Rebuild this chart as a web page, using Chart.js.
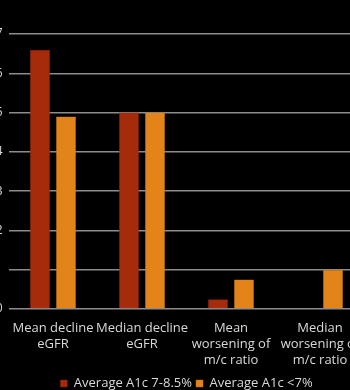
<!DOCTYPE html>
<html>
<head>
<meta charset="utf-8">
<script src="https://cdn.jsdelivr.net/npm/chart.js@4"></script>
<style>
  html,body{margin:0;padding:0;background:#000;overflow:hidden}
  #wrap{position:absolute;left:-20px;top:0;width:413px;height:400px}
</style>
</head>
<body>
<div id="wrap"><canvas id="c"></canvas></div>
<script>
// ── Data ──
const categories = [['Mean decline','eGFR'],['Median decline','eGFR'],['Mean','worsening of','m/c ratio'],['Median','worsening of','m/c ratio']];
const seriesNames = ['Average A1c 7-8.5%','Average A1c <7%'];
const highA1c = [6.6, 5.0, 0.25, 0];
const lowA1c = [4.9, 5.0, 0.75, 1.0];
const yTicks = [0,1,2,3,4,5,6,7];

const FONT = "'Open Sans','DejaVu Sans',sans-serif";
Chart.defaults.font.family = FONT;
Chart.defaults.color = '#d9d9d9';

new Chart(document.getElementById('c'),{
  type:'bar',
  data:{labels:categories, datasets:[
    {label:seriesNames[0], data:highA1c, backgroundColor:'#a62b0b', borderColor:'#7a1f08', borderWidth:0.5, barPercentage:0.77, categoryPercentage:0.585},
    {label:seriesNames[1], data:lowA1c, backgroundColor:'#e3841a', borderColor:'#b5680f', borderWidth:0.5, barPercentage:0.77, categoryPercentage:0.585},
  ]},
  options:{
    responsive:true, maintainAspectRatio:false, animation:false,
    layout:{padding:{top:34,right:0,left:0,bottom:0}},
    plugins:{
      legend:{position:'bottom', labels:{boxWidth:7, boxHeight:7, padding:4, font:{size:13}, color:'#d9d9d9'}},
      tooltip:{enabled:false}
    },
    scales:{
      x:{grid:{display:false}, border:{display:false},
         afterFit:s=>{s.height = 64;},
         ticks:{font:{size:13, lineHeight:1.25}, color:'#d9d9d9', maxRotation:0, autoSkip:false, padding:3}},
      y:{min:0, max:7, afterBuildTicks:s=>{s.ticks = yTicks.map(v=>({value:v}));},
         afterFit:s=>{s.width = 28.5;},
         grid:{color:'#8c8c8c', lineWidth:1.5, drawTicks:false}, border:{display:false},
         ticks:{font:{size:12}, color:'#d9d9d9', padding:6}},
      y2:{position:'right', grid:{display:false}, border:{display:false}, ticks:{display:false},
          afterFit:s=>{s.width = 28.5;}}
    }
  }
});
</script>
</body>
</html>
